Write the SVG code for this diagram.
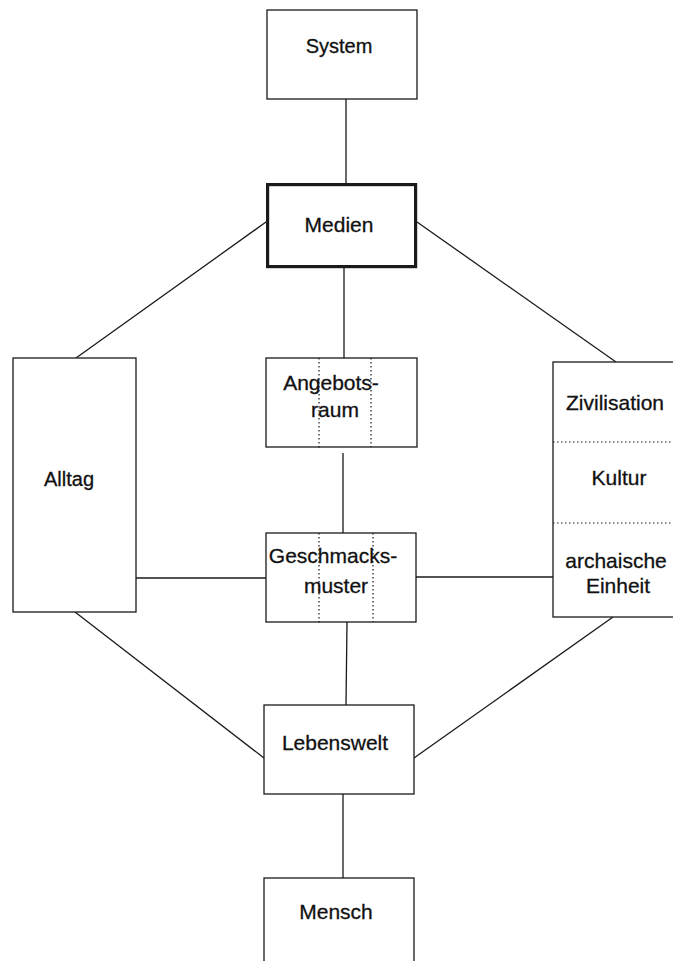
<svg xmlns="http://www.w3.org/2000/svg" width="673" height="961" viewBox="0 0 673 961">
<style>
.box{fill:#fff;stroke:#1a1a1a;stroke-width:1.3}
.thick{fill:#fff;stroke:#1a1a1a;stroke-width:3.2}
.dot{stroke:#1a1a1a;stroke-width:1.2;stroke-dasharray:1.5 2.5;fill:none}
.ln{stroke:#1a1a1a;stroke-width:1.3;fill:none}
text{font-family:"Liberation Sans",Arial,sans-serif;font-size:21px;fill:#111;stroke:#111;stroke-width:0.3;text-anchor:middle}
</style>
<rect width="673" height="961" fill="#fff"/>
<g id="connectors">
<line class="ln" x1="346" y1="99" x2="346" y2="183"/>
<line class="ln" x1="344" y1="268" x2="344" y2="358"/>
<line class="ln" x1="343" y1="453" x2="343" y2="533"/>
<line class="ln" x1="347" y1="622" x2="346" y2="705"/>
<line class="ln" x1="343" y1="794" x2="343" y2="878"/>
<line class="ln" x1="266" y1="222" x2="76" y2="358"/>
<line class="ln" x1="417" y1="222" x2="616" y2="362"/>
<line class="ln" x1="136" y1="578" x2="266" y2="578"/>
<line class="ln" x1="416" y1="577" x2="553" y2="577"/>
<line class="ln" x1="75" y1="612" x2="264" y2="758"/>
<line class="ln" x1="414" y1="758" x2="613" y2="617"/>
</g>
<g id="system">
<rect class="box" x="267" y="10" width="150" height="89"/>
<text x="339" y="53" style="font-size:20px">System</text>
</g>
<g id="medien">
<rect class="thick" x="267.6" y="184.6" width="148" height="82"/>
<text x="339" y="232">Medien</text>
</g>
<g id="angebotsraum">
<rect class="box" x="266" y="358" width="151" height="89"/>
<line class="dot" x1="319" y1="358" x2="319" y2="449"/>
<line class="dot" x1="371" y1="358" x2="371" y2="447"/>
<text x="331" y="390">Angebots-</text>
<text x="335" y="417">raum</text>
</g>
<g id="geschmacksmuster">
<rect class="box" x="266" y="533" width="150" height="89"/>
<line class="dot" x1="319" y1="533" x2="319" y2="624"/>
<line class="dot" x1="373" y1="533" x2="373" y2="622"/>
<text x="333" y="563">Geschmacks-</text>
<text x="336" y="593">muster</text>
</g>
<g id="alltag">
<rect class="box" x="13" y="358" width="123" height="254"/>
<text x="69" y="486" style="font-size:20px">Alltag</text>
</g>
<g id="zivilisation">
<rect class="box" x="553" y="362" width="130" height="255"/>
<line class="dot" x1="553" y1="442" x2="673" y2="442"/>
<line class="dot" x1="553" y1="523" x2="673" y2="523"/>
<text x="615" y="410">Zivilisation</text>
<text x="619" y="485">Kultur</text>
<text x="616" y="568">archaische</text>
<text x="618" y="593">Einheit</text>
</g>
<g id="lebenswelt">
<rect class="box" x="264" y="705" width="150" height="89"/>
<text x="335" y="750">Lebenswelt</text>
</g>
<g id="mensch">
<rect class="box" x="264" y="878" width="150" height="90"/>
<text x="336" y="919">Mensch</text>
</g>
</svg>
